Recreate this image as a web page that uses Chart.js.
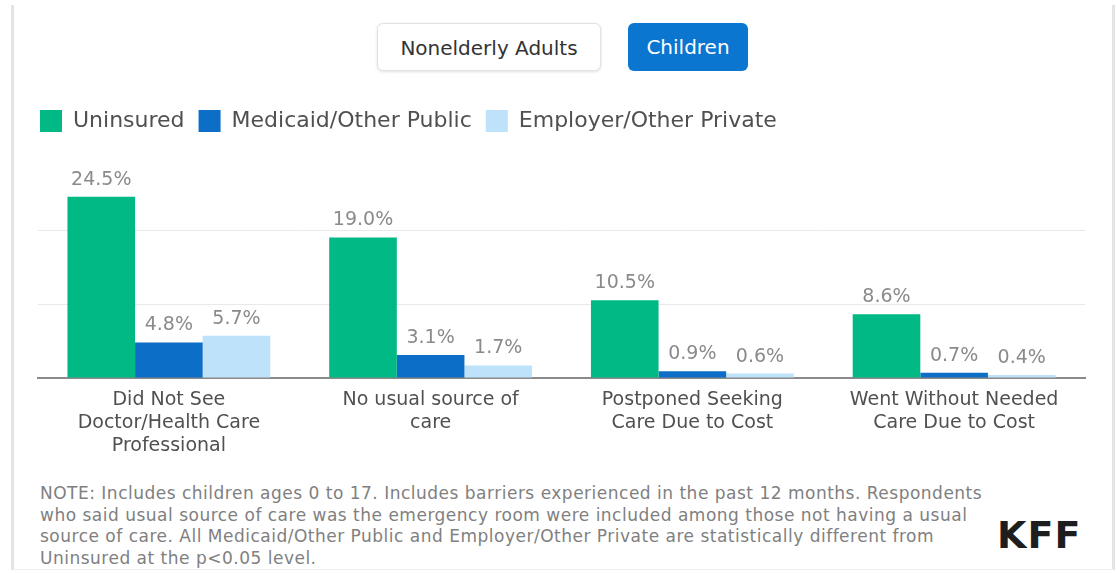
<!DOCTYPE html>
<html lang="en">

<head>
    <meta charset="UTF-8">
    <meta name="viewport" content="width=device-width, initial-scale=1.0">
    <title>Barriers to Care - Children</title>

    <script src="https://cdn.jsdelivr.net/npm/chart.js"></script>

    <style>
        body {
            margin: 0;
            background: #fff;
            font-family: "DejaVu Sans", sans-serif;
        }

        .frame {
            position: absolute;
            left: 11px;
            top: 5px;
            width: 1098px;
            height: 564px;
            border-left: 3px solid #e4e4e4;
            border-right: 3px solid #e4e4e4;
            border-bottom: 1px solid #efefef;
        }

        .btn {
            position: absolute;
            top: 23px;
            height: 48px;
            line-height: 48px;
            text-align: center;
            font-size: 20px;
            border-radius: 6px;
            box-sizing: border-box;
        }

        #btnAdults {
            left: 377px;
            width: 224px;
            color: #333;
            background: #fff;
            border: 1px solid #e2e2e2;
            box-shadow: 0 1px 3px rgba(0, 0, 0, 0.12);
        }

        #btnChildren {
            left: 628px;
            width: 120px;
            color: #fff;
            background: #0b76d0;
        }

        #chartBox {
            position: absolute;
            left: 0;
            top: 96px;
            width: 1116px;
            height: 365px;
        }

        #note {
            position: absolute;
            left: 40px;
            top: 483px;
            font-size: 17px;
            line-height: 21.5px;
            letter-spacing: 0.5px;
            color: #808080;
            white-space: nowrap;
        }

        #logo {
            position: absolute;
            left: 997px;
            top: 513px;
            font-size: 38px;
            font-weight: bold;
            color: #1e1e1e;
            letter-spacing: 1px;
        }
    </style>
</head>

<body>
    <div class="frame"></div>

    <div class="btn" id="btnAdults">Nonelderly Adults</div>
    <div class="btn" id="btnChildren">Children</div>

    <div id="chartBox">
        <canvas id="barrierChart"></canvas>
    </div>

    <div id="note">
        NOTE: Includes children ages 0 to 17. Includes barriers experienced in the past 12 months. Respondents<br>
        who said usual source of care was the emergency room were included among those not having a usual<br>
        source of care. All Medicaid/Other Public and Employer/Other Private are statistically different from<br>
        Uninsured at the p&lt;0.05 level.
    </div>
    <div id="logo">KFF</div>

    <script>
        // categories (multi-line labels)
        const categories = [
            ['Did Not See', 'Doctor/Health Care', 'Professional'],
            ['No usual source of', 'care'],
            ['Postponed Seeking', 'Care Due to Cost'],
            ['Went Without Needed', 'Care Due to Cost']
        ];

        // percent of children reporting each barrier
        const uninsured = [24.5, 19.0, 10.5, 8.6];
        const medicaidPublic = [4.8, 3.1, 0.9, 0.7];
        const employerPrivate = [5.7, 1.7, 0.6, 0.4];

        // gridlines shown in the plot
        const gridValues = [10, 20];

        // extra room under the legend
        const legendSpacing = {
            id: 'legendSpacing',
            beforeInit(chart) {
                const fit = chart.legend.fit;
                chart.legend.fit = function () {
                    fit.bind(chart.legend)();
                    this.height += 14;
                };
            }
        };

        // value labels above each bar
        const valueLabels = {
            id: 'valueLabels',
            afterDatasetsDraw(chart) {
                const ctx = chart.ctx;
                ctx.save();
                ctx.font = '19px "DejaVu Sans"';
                ctx.fillStyle = '#8a8a8a';
                ctx.textAlign = 'center';
                ctx.textBaseline = 'alphabetic';
                chart.data.datasets.forEach((dataset, i) => {
                    chart.getDatasetMeta(i).data.forEach((bar, j) => {
                        ctx.fillText(dataset.data[j].toFixed(1) + '%', bar.x, bar.y - 12);
                    });
                });
                ctx.restore();
            }
        };

        const ctx = document.getElementById('barrierChart').getContext('2d');
        const barrierChart = new Chart(ctx, {
            type: 'bar',
            data: {
                labels: categories,
                datasets: [
                    {
                        label: 'Uninsured',
                        data: uninsured,
                        backgroundColor: '#00b985'
                    },
                    {
                        label: 'Medicaid/Other Public',
                        data: medicaidPublic,
                        backgroundColor: '#0c6ec6'
                    },
                    {
                        label: 'Employer/Other Private',
                        data: employerPrivate,
                        backgroundColor: '#bee2fa'
                    }
                ]
            },
            options: {
                responsive: true,
                maintainAspectRatio: false,
                animation: false,
                categoryPercentage: 0.775,
                barPercentage: 1.0,
                layout: {
                    padding: { left: 26, right: 31, top: 0, bottom: 0 }
                },
                plugins: {
                    tooltip: { enabled: false },
                    legend: {
                        position: 'top',
                        align: 'start',
                        labels: {
                            boxWidth: 22,
                            boxHeight: 22,
                            padding: 14,
                            color: '#505050',
                            font: { family: 'DejaVu Sans', size: 22 }
                        }
                    }
                },
                scales: {
                    x: {
                        grid: { display: false },
                        border: { display: true, color: '#8a8a8a', width: 2 },
                        ticks: {
                            color: '#505050',
                            padding: 3,
                            maxRotation: 0,
                            font: { family: 'DejaVu Sans', size: 19, lineHeight: 23 / 19 }
                        }
                    },
                    y: {
                        min: 0,
                        max: 30,
                        afterFit: (scale) => { scale.width = 12; },
                        border: { display: false },
                        ticks: { display: false, stepSize: 10 },
                        grid: {
                            drawTicks: false,
                            color: (c) => gridValues.includes(c.tick.value) ? '#e9e9e9' : 'rgba(0,0,0,0)'
                        }
                    }
                }
            },
            plugins: [legendSpacing, valueLabels]
        });
    </script>
</body>

</html>
